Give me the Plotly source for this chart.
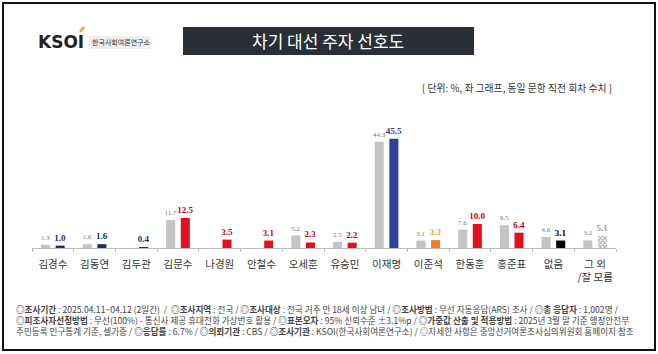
import plotly.graph_objects as go

categories = ["김경수", "김동연", "김두관", "김문수", "나경원", "안철수", "오세훈",
              "유승민", "이재명", "이준석", "한동훈", "홍준표", "없음", "그 외<br>/잘 모름"]
prev_values = [1.3, 1.6, None, 11.7, None, None, 5.2, 2.5, 44.3, 3.1, 7.6, 9.5, 4.6, 3.2]
curr_values = [1.0, 1.6, 0.4, 12.5, 3.5, 3.1, 2.3, 2.2, 45.5, 3.3, 10.0, 6.4, 3.1, 5.1]
curr_colors = ["#1F2A6B", "#1F2A6B", "#1F2A6B", "#E0101E", "#E0101E", "#E0101E", "#E0101E",
               "#E0101E", "#2E3F9E", "#F07F22", "#E0101E", "#E0101E", "#000000", "#FFFFFF"]
curr_text_colors = ["#1F2A6B", "#1F2A6B", "#1F2A6B", "#C00018", "#C00018", "#C00018", "#C00018",
                    "#C00018", "#2E3F9E", "#F5A04A", "#C00018", "#C00018", "#000000", "#999999"]
curr_patterns = [""] * 13 + ["x"]

title_text = "차기 대선 주자 선호도"
unit_text = "[ 단위: %, 좌 그래프, 동일 문항 직전 회차 수치 ]"
notes = [
    "<b>◎조사기간</b> : 2025.04.11~04.12 (2일간)  /  <b>◎조사지역</b> : 전국 / <b>◎조사대상</b> : 전국 거주 만 18세 이상 남녀 / <b>◎조사방법</b> : 무선 자동응답(ARS) 조사 / <b>◎총 응답자</b> : 1,002명 /",
    "<b>◎피조사자선정방법</b> : 무선(100%) - 통신사 제공 휴대전화 가상번호 활용 / <b>◎표본오차</b> : 95% 신뢰수준 ±3.1%p / <b>◎가중값 산출 및 적용방법</b> : 2025년 3월 말 기준 행정안전부",
    "주민등록 인구통계 기준, 셀가중 / <b>◎응답률</b> : 6.7% / <b>◎의뢰기관</b> : CBS / <b>◎조사기관</b> : KSOI(한국사회여론연구소) / ◎자세한 사항은 중앙선거여론조사심의위원회 홈페이지 참조",
]

W, H = 658, 354
FONT = "Noto Sans CJK KR"

fig = go.Figure()
fig.add_trace(go.Bar(
    x=categories, y=prev_values,
    marker=dict(color="#C4C4C4", line=dict(width=0)),
    text=[("%.1f" % v) if v is not None else "" for v in prev_values],
    textposition="outside", constraintext="none", cliponaxis=False,
    textfont=dict(family="Liberation Serif", size=7, color="#777777"),
    hoverinfo="skip", showlegend=False,
))
fig.add_trace(go.Bar(
    x=categories, y=curr_values,
    marker=dict(color=curr_colors, line=dict(width=0),
                pattern=dict(shape=curr_patterns, fgcolor="#444444", bgcolor="#FFFFFF",
                             size=3, solidity=0.5)),
    text=["%.1f" % v for v in curr_values],
    textposition="outside", constraintext="none", cliponaxis=False,
    textfont=dict(family="Liberation Serif", size=9, weight="bold", color=curr_text_colors),
    hoverinfo="skip", showlegend=False,
))

fig.update_layout(
    width=W, height=H,
    margin=dict(l=0, r=0, t=0, b=0),
    paper_bgcolor="white", plot_bgcolor="white",
    barmode="group", bargap=0.30, bargroupgap=0.38,
    font=dict(family=FONT),
    xaxis=dict(domain=[32 / W, 616 / W], showgrid=False, zeroline=False,
               showline=True, linecolor="#BBBBBB", linewidth=1,
               ticks="outside", tickson="boundaries", ticklen=3, tickcolor="#BBBBBB",
               tickangle=0,
               tickfont=dict(family=FONT, size=10.5, color="#333333"),
               ticklabelstandoff=6, fixedrange=True),
    yaxis=dict(domain=[106 / H, 226 / H], range=[0, 50], visible=False, fixedrange=True),
    shapes=[
        dict(type="rect", xref="paper", yref="paper", x0=3 / W, x1=655 / W, y0=1 - 350 / H, y1=1 - 3 / H,
             line=dict(color="#111111", width=2), fillcolor="rgba(0,0,0,0)"),
        dict(type="rect", xref="paper", yref="paper", x0=183 / W, x1=474 / W, y0=1 - 55 / H, y1=1 - 27 / H,
             line=dict(width=0), fillcolor="#2A2F37"),
        dict(type="rect", xref="paper", yref="paper", x0=89 / W, x1=151 / W, y0=1 - 49 / H, y1=1 - 36 / H,
             line=dict(width=0), fillcolor="#EEEEEE"),
        dict(type="line", xref="paper", yref="paper", x0=80 / W, x1=84 / W, y0=1 - 32 / H, y1=1 - 27 / H,
             line=dict(color="#F5A623", width=2.5)),
    ],
)

ann = []
ann.append(dict(text="<b>KSOI</b>", x=36 / W, y=1 - 42 / H, xref="paper", yref="paper",
                xanchor="left", yanchor="middle", showarrow=False,
                font=dict(family="DejaVu Sans", size=17, color="#222222")))
ann.append(dict(text="한국사회여론연구소", x=90 / W, y=1 - 42.5 / H, xref="paper", yref="paper",
                xanchor="left", yanchor="middle", showarrow=False,
                font=dict(family=FONT, size=7, color="#333333")))
ann.append(dict(text=title_text, x=328 / W, y=1 - 41 / H, xref="paper", yref="paper",
                xanchor="center", yanchor="middle", showarrow=False,
                font=dict(family=FONT, size=17, color="white")))
ann.append(dict(text=unit_text, x=614 / W, y=1 - 88 / H, xref="paper", yref="paper",
                xanchor="right", yanchor="middle", showarrow=False,
                font=dict(family=FONT, size=9.8, color="#333333")))
for i, line in enumerate(notes):
    ann.append(dict(text=line, x=14 / W, y=1 - (309 + i * 11) / H, xref="paper", yref="paper",
                    xanchor="left", yanchor="middle", showarrow=False,
                    font=dict(family=FONT, size=8.6, color="#444444")))
fig.update_layout(annotations=ann)

fig.write_html("out.html")
